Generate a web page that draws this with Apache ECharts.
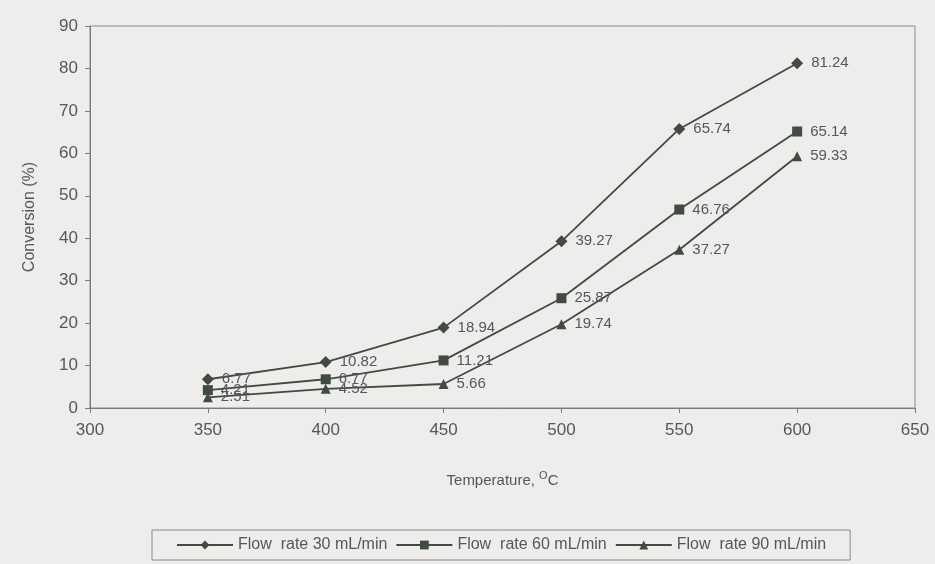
<!DOCTYPE html>
<html>
<head>
<meta charset="utf-8">
<script src="https://cdn.jsdelivr.net/npm/echarts@6/dist/echarts.min.js"></script>
<style>
html, body { margin: 0; padding: 0; background: #ededeb; }
#main { width: 935px; height: 564px; }
</style>
</head>
<body>
<div id="main"></div>
<script>
// temperatures (°C)
var temps = [350, 400, 450, 500, 550, 600];
// conversion (%) per flow rate
var flow30 = [6.77, 10.82, 18.94, 39.27, 65.74, 81.24];
var flow60 = [4.21, 6.77, 11.21, 25.87, 46.76, 65.14];
var flow90 = [2.51, 4.52, 5.66, 19.74, 37.27, 59.33];
var names = ['Flow  rate 30 mL/min', 'Flow  rate 60 mL/min', 'Flow  rate 90 mL/min'];
var symbols = ['diamond', 'rect', 'triangle'];

var dom = document.getElementById('main');
var myChart = echarts.init(dom);
var ink = '#424a44';
var txt = '#555856';

function pairs(vals) {
    return temps.map(function (t, i) { return [t, vals[i]]; });
}

function mkSeries(i, vals) {
    return {
        name: names[i],
        type: 'line',
        data: pairs(vals),
        symbol: symbols[i],
        symbolSize: i == 0 ? 12 : 10,
        itemStyle: { color: ink },
        lineStyle: { color: ink, width: 1.8 },
        label: {
            show: true,
            position: 'right',
            distance: 8,
            color: txt,
            fontFamily: 'Liberation Sans',
            fontSize: 15
        },
        animation: false
    };
}

var option = {
    backgroundColor: '#ededeb',
    grid: { left: 90, right: 20, top: 26, bottom: 156, show: true, borderColor: '#8a8a8a', borderWidth: 1 },
    legend: {
        bottom: 4,
        left: 152,
        width: 800,
        padding: [7, 24, 7, 24],
        borderColor: '#8a8a8a',
        borderWidth: 1,
        itemGap: 8,
        itemWidth: 56,
        itemHeight: 11,
        textStyle: { color: txt, fontFamily: 'Liberation Sans', fontSize: 16 },
        data: names
    },
    xAxis: {
        type: 'value',
        min: 300,
        max: 650,
        interval: 50,
        name: 'Temperature, {sup|O}C',
        nameLocation: 'middle',
        nameGap: 62,
        nameTextStyle: {
            color: txt, fontFamily: 'Liberation Sans', fontSize: 15,
            rich: { sup: { fontSize: 11, verticalAlign: 'top', padding: [0, 0, 10, 0], color: txt } }
        },
        axisLine: { lineStyle: { color: '#7a7a7a' } },
        axisTick: { show: true, inside: false, length: 5, lineStyle: { color: '#7a7a7a' } },
        axisLabel: { color: txt, fontFamily: 'Liberation Sans', fontSize: 17, margin: 14 },
        splitLine: { show: false }
    },
    yAxis: {
        type: 'value',
        min: 0,
        max: 90,
        interval: 10,
        name: 'Conversion (%)',
        nameLocation: 'middle',
        nameGap: 52,
        nameTextStyle: { color: txt, fontFamily: 'Liberation Sans', fontSize: 16 },
        axisLine: { show: true, lineStyle: { color: '#7a7a7a' } },
        axisTick: { show: true, inside: false, length: 5, lineStyle: { color: '#7a7a7a' } },
        axisLabel: { color: txt, fontFamily: 'Liberation Sans', fontSize: 17, margin: 12 },
        splitLine: { show: false }
    },
    series: [
        mkSeries(0, flow30),
        mkSeries(1, flow60),
        mkSeries(2, flow90)
    ]
};

if (option && typeof option === "object") {
    myChart.setOption(option, true);
}
</script>
</body>
</html>
